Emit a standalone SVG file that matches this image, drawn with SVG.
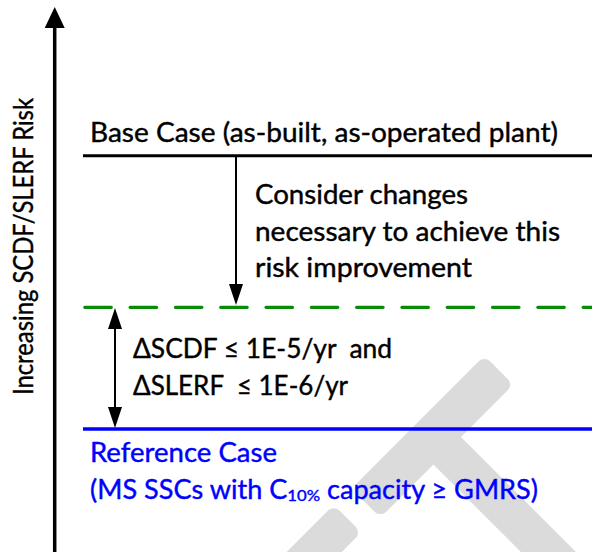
<svg xmlns="http://www.w3.org/2000/svg" width="592" height="552" viewBox="0 0 592 552">
  <style>
    .t { font-family: Lato, "Open Sans", "Liberation Sans", sans-serif; font-size: 26px; fill: #000; stroke: #000; stroke-width: 0.4px; white-space: pre; }
    .b { fill: #0000ff; stroke: #0000ff; }
    .wm { fill: #dbdbdb; }
  </style>
  <rect x="0" y="0" width="592" height="552" fill="#fff"/>
  <g id="watermark" transform="rotate(-45)">
    <rect class="wm" x="-97" y="594" width="188" height="41" rx="8"/>
    <rect class="wm" x="-22" y="625" width="39" height="300"/>
    <rect class="wm" x="-420" y="593" width="299" height="39" rx="8"/>
  </g>
  <g id="axis">
    <line x1="54.7" y1="552" x2="54.7" y2="24" stroke="#000" stroke-width="3.5"/>
    <polygon points="54.7,7 44.7,28 64.7,28" fill="#000"/>
    <text class="t" xml:space="preserve" font-size="27" transform="translate(33,395) rotate(-90)" textLength="297" lengthAdjust="spacingAndGlyphs">Increasing SCDF/SLERF Risk</text>
  </g>
  <g id="base-case">
    <line x1="83" y1="155.7" x2="592" y2="155.7" stroke="#000" stroke-width="3"/>
    <text class="t" x="90" y="142" textLength="468" lengthAdjust="spacingAndGlyphs">Base Case (as-built, as-operated plant)</text>
  </g>
  <g id="target-level">
    <line x1="84.8" y1="307.3" x2="592" y2="307.3" stroke="#078c07" stroke-width="3.2" stroke-linecap="round" stroke-dasharray="26.5 18.8"/>
  </g>
  <g id="reference-case">
    <line x1="83" y1="429" x2="592" y2="429" stroke="#0000ff" stroke-width="3.5"/>
    <text class="t b" x="90" y="462" textLength="187" lengthAdjust="spacingAndGlyphs">Reference Case</text>
    <text class="t b" xml:space="preserve" x="90" y="498.5" textLength="448" lengthAdjust="spacingAndGlyphs">(MS SSCs with C<tspan font-size="16" dy="2.5">10%</tspan><tspan dy="-2.5"> capacity ≥ GMRS)</tspan></text>
  </g>
  <g id="connectors">
    <line x1="236" y1="157" x2="236" y2="288" stroke="#000" stroke-width="2"/>
    <polygon points="236,305 229,284 243,284" fill="#000"/>
    <line x1="115" y1="325" x2="115" y2="411" stroke="#000" stroke-width="2"/>
    <polygon points="115,308 108,329 122,329" fill="#000"/>
    <polygon points="115,428 108,407 122,407" fill="#000"/>
  </g>
  <g id="labels">
    <text class="t" x="255" y="204" textLength="213" lengthAdjust="spacingAndGlyphs">Consider changes</text>
    <text class="t" x="255" y="240.5" textLength="305" lengthAdjust="spacingAndGlyphs">necessary to achieve this</text>
    <text class="t" x="255" y="277" textLength="217" lengthAdjust="spacingAndGlyphs">risk improvement</text>
    <text class="t" xml:space="preserve" x="133" y="358" font-size="27" textLength="259" lengthAdjust="spacingAndGlyphs">ΔSCDF ≤ 1E-5/yr  and</text>
    <text class="t" xml:space="preserve" x="133" y="394.5" font-size="27" textLength="215" lengthAdjust="spacingAndGlyphs">ΔSLERF  ≤ 1E-6/yr</text>
  </g>
</svg>
